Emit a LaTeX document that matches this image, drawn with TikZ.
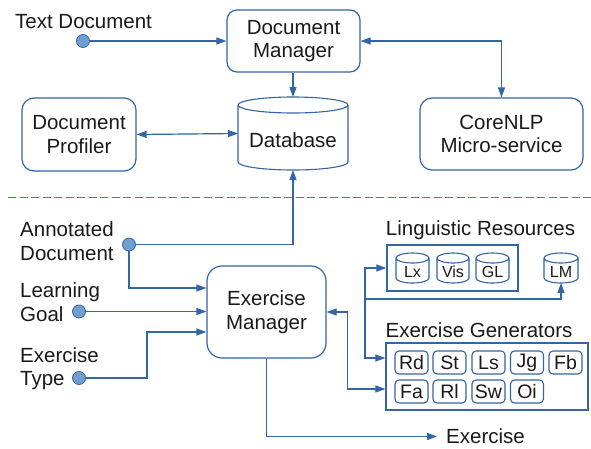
\documentclass[tikz,border=0pt]{standalone}
\usepackage{fontspec}
\setmainfont{Liberation Sans}
\usetikzlibrary{arrows.meta,calc}
\definecolor{lineblue}{HTML}{3465A4}
\definecolor{dotblue}{HTML}{729FCF}
\definecolor{dashblue}{HTML}{4A78B8}
\definecolor{txt}{HTML}{1A1A1A}
\tikzset{
  bigfont/.style={font=\fontsize{20.5}{23.5}\selectfont, text=txt},
  midfont/.style={font=\fontsize{19.5}{22}\selectfont, text=txt},
  smallfont/.style={font=\fontsize{16}{18}\selectfont, text=txt},
  roundbox/.style={draw=lineblue, line width=1.2pt, rounded corners=#1, bigfont, align=center, inner sep=0pt},
  sqbox/.style={draw=lineblue, line width=1.2pt, inner sep=0pt},
  genbox/.style={draw=lineblue, line width=1.1pt, rounded corners=4pt, minimum width=33pt, minimum height=23pt, inner sep=0pt, midfont},
  anchorbox/.style={inner sep=0pt, outer sep=0pt},
  cylline/.style={draw=lineblue, line width=1.1pt},
  lbl/.style={bigfont, inner sep=0pt, align=left},
  dot/.style={circle, fill=dotblue, draw=lineblue, line width=0.8pt, minimum size=13pt, inner sep=0pt},
  conn/.style={draw=lineblue, line width=1.2pt},
  arr/.style={conn, -{Triangle[length=10pt,width=7pt]}},
  darr/.style={conn, {Triangle[length=10pt,width=7pt]}-{Triangle[length=10pt,width=7pt]}},
}
% cylinder: name, cx, cy, w, h, rx, ry
\newcommand\mycylinder[7]{%
  \node[anchorbox, minimum width=#4pt, minimum height=#5pt] (#1) at (#2,#3) {};
  \draw[cylline] ([yshift=-#7pt]#1.north west) -- ([yshift=#7pt]#1.south west)
     arc[start angle=180, end angle=360, x radius=#6pt, y radius=#7pt]
     -- ([yshift=-#7pt]#1.north east)
     arc[start angle=0, end angle=360, x radius=#6pt, y radius=#7pt];
}
\begin{document}
\begin{tikzpicture}[x=1pt,y=-1pt]
\useasboundingbox (0,0) rectangle (591,448);
\fill[white] (0,0) rectangle (591,448);

% upper part
\node[lbl, anchor=base west] (tdlabel) at (15,28) {Text Document};
\node[dot] (td) at (83,41) {};
\node[roundbox=10pt, minimum width=133pt, minimum height=62pt] (dm) at (293.5,41) {Document\\Manager};
\mycylinder{db}{293}{133.5}{110}{73}{55}{8}
\node[bigfont, inner sep=0pt] (dblabel) at (293,140) {Database};
\node[roundbox=12pt, minimum width=114pt, minimum height=73pt] (dp) at (79,134.5) {Document\\Profiler};
\node[roundbox=12pt, minimum width=163pt, minimum height=72pt] (cn) at (501.5,134) {CoreNLP\\Micro-service};

\draw[arr] (td) -- (dm.west |- td);
\draw[arr] (dm.south -| db.north) -- (db.north);
\draw[darr] (dp.east) -- (db.west);
\draw[darr] (dm.east) -| (cn.north);

% separator
\draw[dashblue, line width=1.2pt, dash pattern=on 8pt off 3.5pt] (8,197.5) -- (591,197.5);

% lower part
\node[lbl, anchor=west] (adlabel) at (20,241) {Annotated\\Document};
\node[dot] (ad) at (129,244.5) {};
\node[lbl, anchor=west] (lglabel) at (20,302) {Learning\\Goal};
\node[dot] (lg) at (79,311.5) {};
\node[lbl, anchor=west] (etlabel) at (20,368.5) {Exercise\\Type};
\node[dot] (et) at (79,378) {};

\node[roundbox=15pt, minimum width=119pt, minimum height=92pt] (em) at (266.5,312) {Exercise\\Manager};

\draw[arr] (ad) -| (db.south);
\draw[arr] (ad) |- ([yshift=24pt]em.west);
\draw[arr] (lg) -- (em.west |- lg);
\draw[arr] (et) -- ++(68,0) |- ([yshift=-20pt]em.west);

\node[bigfont, inner sep=0pt, anchor=west] (exout) at (446,436.5) {Exercise};
\draw[arr] (em.south) |- ([xshift=-9pt]exout.west);

% linguistic resources
\node[bigfont, inner sep=0pt] (lrlabel) at (480.5,230) {Linguistic Resources};
\node[sqbox, minimum width=131pt, minimum height=46pt] (lr) at (452.5,268) {};
\mycylinder{lx}{412.5}{268}{33}{30}{16.5}{5}
\node[smallfont, inner sep=0pt] (lxl) at (412.5,271.5) {Lx};
\mycylinder{vis}{453}{268}{32}{30}{16}{5}
\node[smallfont, inner sep=0pt] (visl) at (453,271.5) {Vis};
\mycylinder{gl}{492.5}{268}{33}{30}{16.5}{5}
\node[smallfont, inner sep=0pt] (gll) at (492.5,271.5) {GL};
\mycylinder{lm}{561}{268}{34}{30}{17}{5}
\node[smallfont, inner sep=0pt] (lml) at (561,271.5) {LM};

% exercise generators
\node[bigfont, inner sep=0pt] (eglabel) at (479,330) {Exercise Generators};
\node[sqbox, minimum width=202pt, minimum height=67pt] (eg) at (487,376.5) {};
\node[genbox] (rd) at (411.5,362.5) {Rd};
\node[genbox] (st) at (449.5,362.5) {St};
\node[genbox] (ls) at (488.5,362.5) {Ls};
\node[genbox] (jg) at (527,362.5) {Jg};
\node[genbox] (fb) at (565.5,362.5) {Fb};
\node[genbox] (fa) at (411.5,391.5) {Fa};
\node[genbox] (rl) at (449.5,391.5) {Rl};
\node[genbox] (sw) at (488.5,391.5) {Sw};
\node[genbox] (oi) at (527,391.5) {Oi};

% bus connectors
\coordinate (bustop) at (365,268);
\coordinate (busbot) at (365,358);
\coordinate (busmid) at (365,299);
\draw[arr] (busbot) -- (bustop) -- (lr.west);
\draw[arr] (bustop) -- (busbot) -- ([yshift=18.5pt]eg.west);
\draw[arr] (busmid) -| (lm.south);
\draw[darr] (em.east) -- ++(21,0) |- ([yshift=-12.5pt]eg.west);
\end{tikzpicture}
\end{document}
